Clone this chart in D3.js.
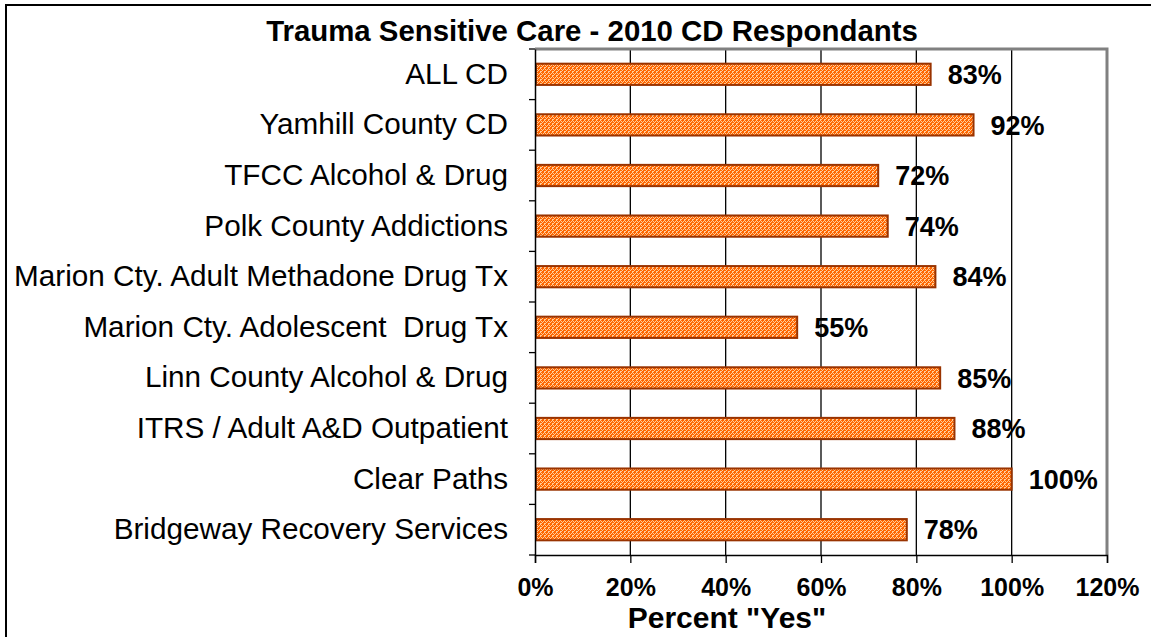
<!DOCTYPE html>
<html><head><meta charset="utf-8">
<script src="https://cdn.jsdelivr.net/npm/d3@7"></script>
<style>body{margin:0;background:#fff;} text{font-family:"Liberation Sans",Arial,sans-serif;}</style>
</head><body>
<svg id="c" width="1151" height="637"></svg>
<script>
const categories = ["ALL CD","Yamhill County CD","TFCC Alcohol & Drug","Polk County Addictions","Marion Cty. Adult Methadone Drug Tx","Marion Cty. Adolescent  Drug Tx","Linn County Alcohol & Drug","ITRS / Adult A&D Outpatient","Clear Paths","Bridgeway Recovery Services"];
const values = [83,92,72,74,84,55,85,88,100,78];
const xTicks = [0,20,40,60,80,100,120];
const title = "Trauma Sensitive Care - 2010 CD Respondants";
const xTitle = 'Percent "Yes"';

const svg = d3.select("#c");
const L = 535, R = 1107, T = 49, B = 555;
const x = d3.scaleLinear().domain([0,120]).range([L,R]);
const y = d3.scaleBand().domain(categories).range([T,B]).paddingInner(0.58).paddingOuter(0.29);

// outer frame
svg.append("rect").attr("x",6).attr("y",5).attr("width",1160).attr("height",660).attr("fill","none").attr("stroke","#000").attr("stroke-width",2);

const defs = svg.append("defs");
const pat = defs.append("pattern").attr("id","hatch").attr("patternUnits","userSpaceOnUse").attr("width",4).attr("height",4);
pat.append("rect").attr("width",4).attr("height",4).attr("fill","#FF6600");
[[0,0],[3,1],[1,1],[2,2],[0,3],[1,3]].forEach(([px,py]) =>
  pat.append("rect").attr("x",px).attr("y",py).attr("width",1).attr("height",1).attr("fill","#FFCC99"));

// gridlines
svg.append("g").selectAll("line").data(xTicks.filter(d=>d>0 && d<120)).join("line")
  .attr("x1",d=>x(d)).attr("x2",d=>x(d)).attr("y1",T).attr("y2",B).attr("stroke","#000").attr("stroke-width",1.3);

// gray frame top/right
svg.append("path").attr("d",`M${L},${T} H${R} V${B}`).attr("fill","none").attr("stroke","#808080").attr("stroke-width",3);

// bars
svg.append("g").selectAll("rect").data(values).join("rect")
  .attr("x",x(0)+1).attr("y",(d,i)=>y(categories[i]))
  .attr("width",d=>x(d)-x(0)-1).attr("height",y.bandwidth())
  .attr("fill","url(#hatch)").attr("stroke","#993300").attr("stroke-width",2);

// value labels
svg.append("g").selectAll("text").data(values).join("text")
  .attr("x",d=>x(d)+17).attr("y",(d,i)=>y(categories[i])+y.bandwidth()/2)
  .attr("dy","0.36em").attr("font-size",27).attr("font-weight","bold").text(d=>d+"%");

// axes
const xAxis = svg.append("g").attr("transform",`translate(0,${B})`)
  .call(d3.axisBottom(x).tickValues(xTicks).tickFormat(d=>d+"%").tickSize(8).tickPadding(15));
xAxis.select(".domain").attr("stroke","#000").attr("stroke-width",1.5);
xAxis.selectAll(".tick line").attr("stroke","#000").attr("stroke-width",1.3);
xAxis.selectAll("text").attr("font-size",25).attr("font-weight","bold").attr("fill","#000").attr("font-family","Liberation Sans, Arial, sans-serif");

const yb = d3.scaleBand().domain(categories).range([T,B]);
const yAxis = svg.append("g").attr("transform",`translate(${L},0)`)
  .call(d3.axisLeft(yb).tickSize(0).tickPadding(27));
yAxis.select(".domain").attr("stroke","#000").attr("stroke-width",1.5);
yAxis.selectAll("text").attr("font-size",29.7).attr("fill","#000").attr("font-family","Liberation Sans, Arial, sans-serif").style("white-space","pre").attr("dy","0.32em");
// boundary ticks
svg.append("g").selectAll("line").data(d3.range(0,categories.length+1)).join("line")
  .attr("x1",L-6).attr("x2",L).attr("y1",i=>T+i*yb.step()).attr("y2",i=>T+i*yb.step()).attr("stroke","#000").attr("stroke-width",1.3);

svg.append("text").attr("x",592).attr("y",41).attr("text-anchor","middle").attr("font-size",29.4).attr("font-weight","bold").text(title);
svg.append("text").attr("x",727).attr("y",628).attr("text-anchor","middle").attr("font-size",30).attr("font-weight","bold").text(xTitle);
</script>
</body></html>
